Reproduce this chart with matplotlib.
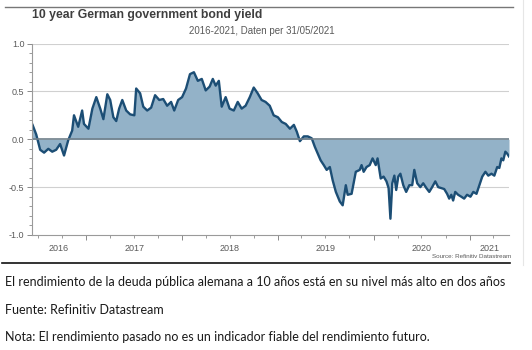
import matplotlib
matplotlib.use("Agg")
import matplotlib.pyplot as plt
import matplotlib.dates as mdates
from matplotlib.lines import Line2D
from matplotlib.transforms import blended_transform_factory
import pandas as pd

# 10y Bund yield (approx. every 1-2 weeks)
dates = [
    "2016-06-10", "2016-06-24", "2016-07-09", "2016-07-24", "2016-08-09", "2016-08-24",
    "2016-09-08", "2016-09-23", "2016-10-08", "2016-10-24", "2016-11-08", "2016-11-15",
    "2016-12-01", "2016-12-16", "2016-12-23", "2017-01-09", "2017-01-24", "2017-02-08",
    "2017-02-23", "2017-03-07", "2017-03-22", "2017-04-02", "2017-04-14", "2017-04-25",
    "2017-05-06", "2017-05-18", "2017-06-02", "2017-06-17", "2017-07-03", "2017-07-10",
    "2017-07-25", "2017-08-06", "2017-08-21", "2017-09-05", "2017-09-20", "2017-10-06",
    "2017-10-21", "2017-11-05", "2017-11-20", "2017-12-02", "2017-12-17", "2018-01-01",
    "2018-01-16", "2018-01-31", "2018-02-15", "2018-03-02", "2018-03-17", "2018-04-01",
    "2018-04-16", "2018-04-28", "2018-05-09", "2018-05-21", "2018-06-01", "2018-06-16",
    "2018-07-01", "2018-07-17", "2018-08-01", "2018-08-16", "2018-08-31", "2018-09-16",
    "2018-10-01", "2018-10-16", "2018-10-31", "2018-11-15", "2018-12-01", "2018-12-16",
    "2019-01-01", "2019-01-16", "2019-01-31", "2019-02-16", "2019-03-03", "2019-03-14",
    "2019-03-26", "2019-04-10", "2019-04-25", "2019-05-10", "2019-05-22", "2019-06-02",
    "2019-06-13", "2019-06-25", "2019-07-06", "2019-07-18", "2019-07-29", "2019-08-10",
    "2019-08-25", "2019-09-05", "2019-09-17", "2019-09-24", "2019-10-09", "2019-10-25",
    "2019-11-09", "2019-11-16", "2019-11-24", "2019-12-05", "2019-12-17", "2019-12-28",
    "2020-01-09", "2020-01-16", "2020-01-28", "2020-02-08", "2020-02-19", "2020-02-27",
    "2020-03-05", "2020-03-12", "2020-03-20", "2020-03-27", "2020-04-04", "2020-04-12",
    "2020-04-23", "2020-05-04", "2020-05-16", "2020-05-27", "2020-06-04", "2020-06-15",
    "2020-06-27", "2020-07-08", "2020-07-20", "2020-07-31", "2020-08-11", "2020-08-23",
    "2020-09-03", "2020-09-15", "2020-09-26", "2020-10-07", "2020-10-15", "2020-10-23",
    "2020-10-30", "2020-11-07", "2020-11-18", "2020-11-30", "2020-12-11", "2020-12-22",
    "2021-01-04", "2021-01-15", "2021-01-27", "2021-02-07", "2021-02-18", "2021-03-02",
    "2021-03-13", "2021-03-25", "2021-04-05", "2021-04-16", "2021-04-24", "2021-05-02",
    "2021-05-09", "2021-05-17", "2021-05-24", "2021-05-31",
]
yields = [
    0.15, 0.05, -0.11, -0.14, -0.10, -0.13,
    -0.11, -0.05, -0.17, -0.01, 0.09, 0.25,
    0.13, 0.30, 0.16, 0.11, 0.32, 0.44,
    0.32, 0.21, 0.47, 0.41, 0.23, 0.19,
    0.32, 0.41, 0.30, 0.26, 0.25, 0.53,
    0.48, 0.34, 0.30, 0.33, 0.46, 0.41,
    0.42, 0.35, 0.39, 0.30, 0.41, 0.44,
    0.53, 0.68, 0.70, 0.61, 0.63, 0.51,
    0.55, 0.63, 0.56, 0.61, 0.34, 0.44,
    0.32, 0.30, 0.39, 0.32, 0.35, 0.44,
    0.54, 0.48, 0.41, 0.39, 0.35, 0.25,
    0.23, 0.18, 0.16, 0.11, 0.15, 0.08,
    -0.02, 0.03, 0.03, 0.01, -0.08, -0.15,
    -0.22, -0.27, -0.32, -0.29, -0.43, -0.55,
    -0.65, -0.69, -0.48, -0.58, -0.57, -0.34,
    -0.32, -0.27, -0.34, -0.29, -0.27, -0.20,
    -0.27, -0.20, -0.41, -0.39, -0.44, -0.51,
    -0.83, -0.46, -0.38, -0.53, -0.39, -0.36,
    -0.48, -0.55, -0.48, -0.48, -0.32, -0.46,
    -0.50, -0.46, -0.51, -0.55, -0.50, -0.44,
    -0.50, -0.51, -0.52, -0.57, -0.62, -0.58,
    -0.64, -0.55, -0.58, -0.60, -0.62, -0.58,
    -0.60, -0.55, -0.57, -0.48, -0.39, -0.34,
    -0.38, -0.36, -0.38, -0.29, -0.30, -0.20,
    -0.22, -0.13, -0.15, -0.18,
]
years = [2016, 2017, 2018, 2019, 2020, 2021]
y_ticks = [-1.0, -0.5, 0.0, 0.5, 1.0]

title = "10 year German government bond yield"
subtitle = "2016-2021, Daten per 31/05/2021"
source = "Source: Refinitiv Datastream"
notes = [
    "El rendimiento de la deuda pública alemana a 10 años está en su nivel más alto en dos años",
    "Fuente: Refinitiv Datastream",
    "Nota: El rendimiento pasado no es un indicador fiable del rendimiento futuro.",
]

x = pd.to_datetime(dates)
start = pd.Timestamp("2016-06-08")
end = pd.Timestamp("2021-05-31")

fig = plt.figure(figsize=(5.32, 3.5), dpi=100)
ax = fig.add_axes([0.0602, 0.3286, 0.8966, 0.5471])

grey = "#5a5a5a"
ax.fill_between(x, yields, 0, color="#93b2c8", linewidth=0)
ax.plot(x, yields, color="#1c4e75", linewidth=1.7, solid_joinstyle="round")
for v in [-0.5, 0.5, 1.0]:
    ax.axhline(v, color="#d0d0d0", linewidth=0.8, zorder=0)
ax.axhline(0, color="#6f7f8a", linewidth=1.2)

ax.set_xlim(start, end)
ax.set_ylim(-1.0, 1.0)
ax.set_yticks(y_ticks)
ax.set_yticklabels([f"{v:.1f}" for v in y_ticks], fontfamily="Liberation Sans", fontsize=6.5, color=grey)
ax.yaxis.set_minor_locator(plt.MultipleLocator(0.1))

ax.xaxis.set_major_locator(mdates.MonthLocator(bymonth=[1]))
ax.xaxis.set_minor_locator(mdates.MonthLocator(bymonth=[4, 7, 10]))
ax.xaxis.set_major_formatter(plt.NullFormatter())
ax.tick_params(axis="both", which="major", length=3.5, width=0.7, color="#8a8a8a")
ax.tick_params(axis="both", which="minor", length=2, width=0.6, color="#8a8a8a")
ax.tick_params(axis="y", pad=2)

for s in ["top", "right"]:
    ax.spines[s].set_visible(False)
for s in ["left", "bottom"]:
    ax.spines[s].set_color("#9a9a9a")
    ax.spines[s].set_linewidth(0.8)

# year labels centred on the visible part of each year
trans = blended_transform_factory(ax.transData, ax.transAxes)
for yr in years:
    a = max(start, pd.Timestamp(f"{yr}-01-01"))
    b = min(end, pd.Timestamp(f"{yr}-12-31"))
    mid = a + (b - a) / 2
    ax.text(mid, -0.045, str(yr), transform=trans, ha="center", va="top",
            fontfamily="Liberation Sans", fontsize=6.5, color=grey)

fig.text(32 / 532, 1 - 15 / 350, title, fontfamily="Liberation Sans", fontweight="bold",
         fontsize=8.8, color="#3f3f3f", ha="left", va="center")
fig.text(262 / 532, 1 - 31 / 350, subtitle, fontfamily="Liberation Sans",
         fontsize=7.0, color=grey, ha="center", va="center")
fig.text(511 / 532, 1 - 256 / 350, source, fontfamily="Liberation Sans",
         fontsize=4.5, color=grey, ha="right", va="center")

# frame lines of the original graphic
fig.add_artist(Line2D([5 / 532, 513 / 532], [1 - 7 / 350] * 2, color="#777777", linewidth=1.0))
fig.add_artist(Line2D([2 / 532, 510 / 532], [1 - 263 / 350] * 2, color="#111111", linewidth=1.2))
fig.add_artist(Line2D([523 / 532] * 2, [1.0, 1 - 265 / 350], color="#e6e6e6", linewidth=0.8))

for i, line in enumerate(notes):
    fig.text(5 / 532, 1 - (282 + 27.5 * i) / 350, line, fontfamily="Lato",
             fontsize=9.0, color="#1a1a1a", ha="left", va="center")

fig.savefig("out.png", dpi=100)
